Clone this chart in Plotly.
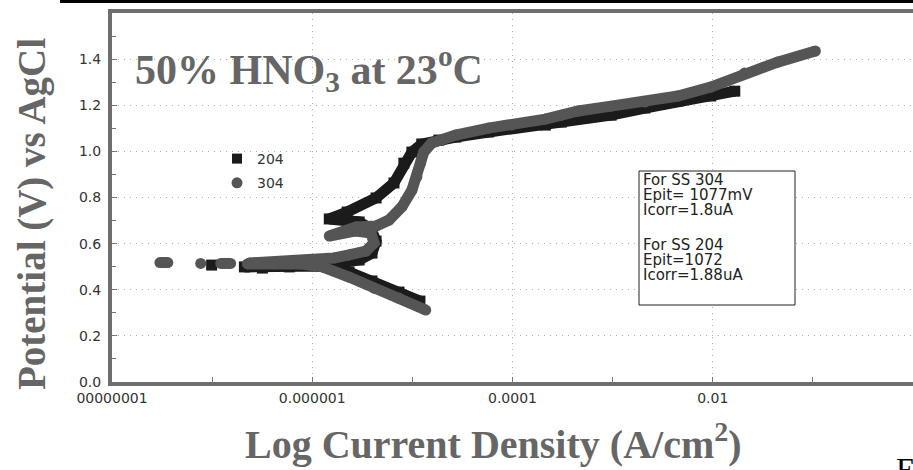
import plotly.graph_objects as go

# ---- data: current density (A/cm2) and potential (V vs AgCl)
# SS 204 (black squares); None separates the disconnected pieces of the scan
i204 = [1.19e-5, 7.35e-6, 3.95e-6, 2.33e-6, 1.26e-6, 5.90e-7, 3.18e-7, 2.10e-7, None,
        9.89e-8, None,
        2.36e-7, 7.43e-7, 1.86e-6, 2.94e-6, 3.95e-6, 4.34e-6, 3.86e-6, 2.94e-6, 1.48e-6, 2.23e-6,
        4.34e-6, 6.55e-6, 8.22e-6, 9.89e-6, 1.24e-5, 1.84e-5, 2.71e-5, 5.77e-5, 2.13e-4, 3.07e-4,
        9.66e-4, 2.10e-3, 4.49e-3, 9.55e-3, 1.66e-2]
e204 = [0.351, 0.390, 0.438, 0.477, 0.503, 0.499, 0.494, 0.499, None,
        0.507, None,
        0.503, 0.507, 0.516, 0.529, 0.559, 0.611, 0.663, 0.694, 0.707, 0.737,
        0.798, 0.863, 0.949, 0.997, 1.032, 1.049, 1.062, 1.084, 1.114, 1.127,
        1.157, 1.188, 1.218, 1.240, 1.261]

# SS 304 (grey circles)
i304 = [1.36e-5, 7.35e-6, 4.14e-6, 2.33e-6, 1.26e-6, 7.43e-7, 4.19e-7, 2.25e-7, None,
        1.53e-7, 1.22e-7, None, 7.69e-8, None, 3.61e-8, 3.01e-8, None,
        2.36e-7, 4.70e-7, 9.33e-7, 1.66e-6, 2.33e-6, 3.44e-6, 4.14e-6, 3.86e-6, 2.74e-6, 1.73e-6, 1.48e-6,
        2.74e-6, 4.34e-6, 5.83e-6, 7.85e-6, 9.89e-6, 1.11e-5, 1.21e-5, 1.30e-5, 1.56e-5, 2.71e-5,
        5.77e-5, 9.77e-5, 2.13e-4, 3.07e-4, 4.54e-4, 9.66e-4, 2.10e-3, 4.49e-3, 9.55e-3, 2.08e-2,
        4.44e-2, 1.06e-1]
e304 = [0.312, 0.364, 0.407, 0.455, 0.499, 0.512, 0.512, 0.512, None,
        0.514, 0.514, None, 0.514, None, 0.518, 0.518, None,
        0.516, 0.520, 0.529, 0.538, 0.551, 0.568, 0.603, 0.646, 0.655, 0.642, 0.633,
        0.672, 0.676, 0.702, 0.759, 0.832, 0.889, 0.949, 0.997, 1.036, 1.071,
        1.101, 1.114, 1.140, 1.157, 1.175, 1.196, 1.214, 1.240, 1.279, 1.340,
        1.387, 1.435]

x_tickvals = [1e-8, 1e-6, 1e-4, 1e-2, 1]
x_ticktext = ["00000001", "0.000001", "0.0001", "0.01", "1"]
x_minor = [1e-7, 1e-5, 1e-3, 1e-1]
y_tickvals = [0.0, 0.2, 0.4, 0.6, 0.8, 1.0, 1.2, 1.4]
y_ticktext = ["0.0", "0.2", "0.4", "0.6", "0.8", "1.0", "1.2", "1.4"]

info_lines = ["For SS 304", "Epit= 1077mV", "Icorr=1.8uA",
              "For SS 204", "Epit=1072", "Icorr=1.88uA"]

# ---- layout geometry (pixels)
W, H = 913, 470
L, R, T, B = 112, 0, 13, 88
PW, PH = W - L - R, H - T - B


def px(x):
    return (x - L) / PW


def py(y):
    return (H - B - y) / PH


BLACK = "#1b1b1b"
GREY = "#555555"
TXT = "#666666"
GRID = "#b0b0b0"

fig = go.Figure()

fig.add_trace(go.Scatter(x=i204, y=e204, mode="lines+markers", showlegend=False,
                         line=dict(color=BLACK, width=11),
                         marker=dict(symbol="square", size=11, color=BLACK)))
fig.add_trace(go.Scatter(x=i304, y=e304, mode="lines+markers", showlegend=False,
                         line=dict(color=GREY, width=11),
                         marker=dict(symbol="circle", size=11, color=GREY)))

# legend-only entries
fig.add_trace(go.Scatter(x=[None], y=[None], mode="markers", name="204", legendgroup="a",
                         marker=dict(symbol="square", size=10, color=BLACK)))
fig.add_trace(go.Scatter(x=[None], y=[None], mode="markers", name="304", legendgroup="b",
                         marker=dict(symbol="circle", size=11, color=GREY)))

shapes = [
    # white areas hiding the grid under the title and legend
    dict(type="rect", xref="paper", yref="paper", layer="between",
         x0=px(140), x1=px(541), y0=py(108), y1=py(52),
         fillcolor="white", line=dict(width=0)),
    dict(type="rect", xref="paper", yref="paper", layer="between",
         x0=px(150), x1=px(311), y0=py(160), y1=py(140),
         fillcolor="white", line=dict(width=0)),
    dict(type="rect", xref="paper", yref="paper", layer="between",
         x0=px(217), x1=px(311), y0=py(206), y1=py(158),
         fillcolor="white", line=dict(width=0)),
    # info box
    dict(type="rect", xref="paper", yref="paper", layer="above",
         x0=px(639), x1=px(795), y0=py(305), y1=py(171),
         fillcolor="white", line=dict(color="#222222", width=1)),
    # black rule at top of page
    dict(type="line", xref="paper", yref="paper",
         x0=px(60), x1=px(913), y0=py(1.5), y1=py(1.5),
         line=dict(color="black", width=3)),
]

annotations = [
    dict(text="50% HNO<sub>3</sub> at 23<sup>o</sup>C", xref="paper", yref="paper",
         x=px(133), y=py(69), xanchor="left", yanchor="middle", showarrow=False,
         font=dict(family="Liberation Serif", size=42, color=TXT, weight="bold")),
    dict(text="Potential (V) vs AgCl", xref="paper", yref="paper",
         x=px(32), y=py(214), xanchor="center", yanchor="middle", showarrow=False,
         textangle=-90,
         font=dict(family="Liberation Serif", size=39, color=TXT, weight="bold")),
    dict(text="Log Current Density (A/cm<sup>2</sup>)", xref="paper", yref="paper",
         x=px(493), y=py(441), xanchor="center", yanchor="middle", showarrow=False,
         font=dict(family="Liberation Serif", size=40, color=TXT, weight="bold")),
    dict(text="E", xref="paper", yref="paper",
         x=px(894), y=py(449), xanchor="left", yanchor="top", showarrow=False,
         font=dict(family="Liberation Serif", size=32, color="black")),
]

line_y = [180, 195, 210, 245, 260, 275]
for t, yy in zip(info_lines, line_y):
    annotations.append(dict(text=t, xref="paper", yref="paper", x=px(641), y=py(yy),
                            xanchor="left", yanchor="middle", showarrow=False,
                            font=dict(family="DejaVu Sans", size=15, color="#222222")))

fig.update_layout(
    width=W, height=H,
    margin=dict(l=L, r=R, t=T, b=B, pad=0),
    paper_bgcolor="white", plot_bgcolor="white",
    shapes=shapes, annotations=annotations,
    legend=dict(x=px(217), y=py(143), xanchor="left", yanchor="top",
                bgcolor="rgba(0,0,0,0)", traceorder="grouped", tracegroupgap=3,
                font=dict(family="DejaVu Sans", size=14, color="#333333"),
                itemwidth=30),
    xaxis=dict(type="log", range=[-8, 0], tickvals=x_tickvals, ticktext=x_ticktext,
               showline=True, linecolor="#6e6e6e", linewidth=4, mirror=True,
               ticks="inside", ticklen=5, tickcolor="#777777",
               showgrid=True, gridcolor=GRID, griddash="1px,5px", gridwidth=1,
               minor=dict(tickvals=x_minor, ticks="inside", ticklen=5, tickcolor="#777777",
                          showgrid=False),
               tickfont=dict(family="DejaVu Sans", size=14, color="#333333"),
               zeroline=False, fixedrange=True),
    yaxis=dict(range=[0, 1.6], tickvals=y_tickvals, ticktext=y_ticktext,
               showline=True, linecolor="#6e6e6e", linewidth=4,
               ticks="inside", ticklen=5, tickcolor="#777777",
               showgrid=True, gridcolor=GRID, griddash="1px,5px", gridwidth=1,
               minor=dict(dtick=0.1, ticks="inside", ticklen=4, tickcolor="#777777",
                          showgrid=False),
               tickfont=dict(family="DejaVu Sans", size=14, color="#333333"),
               ticklabelstandoff=4,
               zeroline=False, fixedrange=True),
)

fig.write_html("out.html")
